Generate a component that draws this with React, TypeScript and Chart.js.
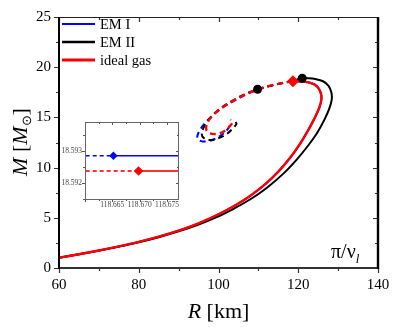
import React, { useEffect, useRef } from 'react';
import { Chart, registerables } from 'chart.js';
Chart.register(...registerables);

const SERIF = '"Liberation Serif", "Times New Roman", Times, serif';

// ---- tick values ----
const mainXTicks = [60, 80, 100, 120, 140];
const mainYTicks = [0, 5, 10, 15, 20, 25];
const insetXTicks = [118.665, 118.67, 118.675];
const insetYTicks = [18.592, 18.593];

// ---- series names ----
const seriesNames = ['EM I', 'EM II', 'ideal gas'];

// ---- EM I (stable branch + unstable branch) ----
const emIStableR = [60, 65, 70, 75, 80, 85, 90, 95, 100, 104, 108, 112, 115, 118, 120.5, 122.6, 124.2, 125.3, 125.8, 125.6, 124.7, 123.2, 121.2, 118.666];
const emIStableM = [1.03, 1.37, 1.74, 2.15, 2.6, 3.12, 3.72, 4.45, 5.35, 6.2, 7.2, 8.45, 9.6, 11.0, 12.4, 13.8, 15.0, 16.0, 16.8, 17.5, 18.1, 18.42, 18.56, 18.593];
const emIUnstableR = [118.666, 116, 113, 110, 107, 104, 101.2, 98.8, 96.9, 95.5, 94.7, 94.9, 96.0, 97.6, 99.6, 101.4, 102.6, 102.9];
const emIUnstableM = [18.593, 18.42, 18.15, 17.78, 17.3, 16.68, 16.02, 15.3, 14.55, 13.85, 13.15, 12.8, 12.6, 12.65, 12.95, 13.45, 14.0, 14.35];

// ---- EM II ----
const emIIStableR = [60, 65, 70, 75, 80, 85, 90, 95, 100, 104, 108, 112, 116, 119.5, 122.5, 124.8, 126.6, 127.8, 128.4, 128.3, 127.6, 126.2, 124.3, 122.5, 121.0];
const emIIStableM = [1.03, 1.37, 1.73, 2.13, 2.57, 3.07, 3.65, 4.33, 5.15, 5.95, 6.85, 7.95, 9.3, 10.75, 12.2, 13.5, 14.8, 15.9, 16.8, 17.5, 18.15, 18.6, 18.82, 18.9, 18.9];
const emIIUnstableR = [121.0, 118, 115, 112, 109.8, 107, 104, 101.2, 99, 97.4, 96.3, 95.8, 96.3, 97.8, 99.8, 101.9, 103.6, 104.5, 104.3];
const emIIUnstableM = [18.9, 18.58, 18.32, 18.05, 17.8, 17.38, 16.78, 16.1, 15.4, 14.7, 14.0, 13.35, 12.95, 12.75, 12.9, 13.3, 13.9, 14.35, 14.55];
const emIIMarkR = [121.0, 109.8];
const emIIMarkM = [18.9, 17.8];

// ---- ideal gas ----
const idealStableR = [60, 65, 70, 75, 80, 85, 90, 95, 100, 104, 108, 112, 115, 118, 120.5, 122.6, 124.2, 125.3, 125.8, 125.6, 124.7, 123.2, 121.2, 118.67];
const idealStableM = [1.03, 1.37, 1.74, 2.15, 2.6, 3.12, 3.72, 4.45, 5.35, 6.2, 7.2, 8.45, 9.6, 11.0, 12.4, 13.8, 15.0, 16.0, 16.8, 17.5, 18.1, 18.42, 18.56, 18.592];
const idealUnstableR = [118.67, 116, 113, 110, 107, 104, 101.2, 99.1, 97.8, 97.0, 97.0, 97.9, 99.5, 101.3, 102.8, 103.5, 103.0];
const idealUnstableM = [18.592, 18.42, 18.16, 17.8, 17.33, 16.72, 16.05, 15.42, 14.85, 14.25, 13.7, 13.4, 13.35, 13.6, 14.1, 14.55, 14.8];

// ---- maximum-mass points ----
const emIPeakR = [118.666];
const emIPeakM = [18.593];
const idealPeakR = [118.67];
const idealPeakM = [18.592];

// ---- inset (zoom near the maximum) ----
const insetBlueR = [118.655, 118.6652, 118.68];
const insetBlueM = [18.59285, 18.59285, 18.59285];
const insetRedR = [118.655, 118.6698, 118.68];
const insetRedM = [18.59237, 18.59237, 18.59237];
const insetBluePeakR = [118.6652];
const insetBluePeakM = [18.59285];
const insetRedPeakR = [118.6698];
const insetRedPeakM = [18.59237];

const BLUE = '#0000ff';
const BLACK = '#000000';
const RED = '#ff0000';

const pts = (r: number[], m: number[]) => r.map((x, i) => ({ x, y: m[i] }));

function tickList(major: number[], min: number, max: number) {
  const step = major[1] - major[0];
  const start = major[0] - step;
  const out: { v: number; major: boolean }[] = [];
  for (let k = 0; k < 200; k++) {
    const v = start + (k * step) / 2;
    if (v > max + step * 1e-6) break;
    if (v < min - step * 1e-6) continue;
    out.push({ v, major: k % 2 === 0 });
  }
  return out;
}

type Piece = { t: string; italic?: boolean; size: number; dy?: number };
function drawPieces(ctx: CanvasRenderingContext2D, pieces: Piece[], x: number, y: number, align: 'left' | 'center') {
  const fontOf = (p: Piece) => `${p.italic ? 'italic ' : ''}${p.size}px ${SERIF}`;
  let w = 0;
  for (const p of pieces) { ctx.font = fontOf(p); w += ctx.measureText(p.t).width; }
  let cx = align === 'center' ? x - w / 2 : x;
  ctx.textAlign = 'left';
  ctx.textBaseline = 'alphabetic';
  for (const p of pieces) {
    ctx.font = fontOf(p);
    ctx.fillText(p.t, cx, y + (p.dy || 0));
    cx += ctx.measureText(p.t).width;
  }
}

const legendItems = [
  { label: seriesNames[0], color: BLUE, width: 1.8 },
  { label: seriesNames[1], color: BLACK, width: 2.4 },
  { label: seriesNames[2], color: RED, width: 3.2 },
];

const mainDecor = {
  id: 'mainDecor',
  afterDraw(chart: any) {
    const ctx: CanvasRenderingContext2D = chart.ctx;
    const a = chart.chartArea;
    const xs = chart.scales.x;
    const ys = chart.scales.y;
    ctx.save();
    // ticks
    ctx.strokeStyle = '#333';
    ctx.lineWidth = 1.2;
    for (const t of tickList(mainXTicks, xs.min, xs.max)) {
      const px = Math.round(xs.getPixelForValue(t.v)) + 0.5;
      const len = t.major ? 5 : 3;
      ctx.beginPath();
      ctx.moveTo(px, a.bottom); ctx.lineTo(px, a.bottom + len);
      ctx.moveTo(px, a.top); ctx.lineTo(px, a.top + len);
      ctx.stroke();
    }
    for (const t of tickList(mainYTicks, ys.min, ys.max)) {
      const py = Math.round(ys.getPixelForValue(t.v)) + 0.5;
      const len = t.major ? 5 : 3;
      ctx.beginPath();
      ctx.moveTo(a.left - len, py); ctx.lineTo(a.left, py);
      ctx.moveTo(a.right - len, py); ctx.lineTo(a.right, py);
      ctx.stroke();
    }
    // frame
    ctx.strokeStyle = '#222';
    ctx.lineWidth = 1.2;
    ctx.beginPath(); ctx.moveTo(a.left, a.top + 0.5); ctx.lineTo(a.right, a.top + 0.5); ctx.stroke();
    ctx.lineWidth = 2;
    ctx.strokeStyle = '#333';
    ctx.beginPath(); ctx.moveTo(a.left - 1, a.bottom); ctx.lineTo(a.right + 1, a.bottom); ctx.stroke();
    ctx.strokeStyle = '#000';
    ctx.beginPath(); ctx.moveTo(a.left, a.top); ctx.lineTo(a.left, a.bottom + 1); ctx.stroke();
    ctx.lineWidth = 2.4;
    ctx.beginPath(); ctx.moveTo(a.right, a.top); ctx.lineTo(a.right, a.bottom + 1); ctx.stroke();

    // legend
    legendItems.forEach((it, i) => {
      const y = 24 + i * 18;
      ctx.strokeStyle = it.color;
      ctx.lineWidth = it.width;
      ctx.beginPath(); ctx.moveTo(62, y); ctx.lineTo(95, y); ctx.stroke();
      ctx.fillStyle = '#000';
      ctx.font = `14.5px ${SERIF}`;
      ctx.textAlign = 'left';
      ctx.textBaseline = 'middle';
      ctx.fillText(it.label, 100, y + 1);
    });

    ctx.fillStyle = '#000';
    // x title
    drawPieces(ctx, [
      { t: 'R', italic: true, size: 22 },
      { t: ' [km]', size: 22 },
    ], (a.left + a.right) / 2, 318, 'center');
    // y title
    ctx.save();
    ctx.translate(27, 142);
    ctx.rotate(-Math.PI / 2);
    drawPieces(ctx, [
      { t: 'M', italic: true, size: 22 },
      { t: ' [', size: 22 },
      { t: 'M', italic: true, size: 22 },
      { t: '\u2299', size: 13, dy: 4 },
      { t: ']', size: 22 },
    ], 0, 0, 'center');
    ctx.restore();
    // annotation
    drawPieces(ctx, [
      { t: '\u03c0/\u03bd', size: 20 },
      { t: 'l', italic: true, size: 13, dy: 5 },
    ], 331, 258, 'left');
    ctx.restore();
  },
};

const insetDecor = {
  id: 'insetDecor',
  beforeDatasetsDraw(chart: any) {
    const ctx: CanvasRenderingContext2D = chart.ctx;
    const a = chart.chartArea;
    ctx.save();
    ctx.fillStyle = '#fff';
    ctx.fillRect(a.left, a.top, a.right - a.left, a.bottom - a.top);
    ctx.restore();
  },
  afterDraw(chart: any) {
    const ctx: CanvasRenderingContext2D = chart.ctx;
    const a = chart.chartArea;
    const xs = chart.scales.x;
    const ys = chart.scales.y;
    ctx.save();
    ctx.strokeStyle = '#555';
    ctx.lineWidth = 1;
    for (const t of tickList(insetXTicks, xs.min, xs.max)) {
      const px = Math.round(xs.getPixelForValue(t.v)) + 0.5;
      const len = t.major ? 3 : 2;
      ctx.beginPath();
      ctx.moveTo(px, a.bottom); ctx.lineTo(px, a.bottom + len);
      ctx.moveTo(px, a.top); ctx.lineTo(px, a.top + len);
      ctx.stroke();
    }
    for (const t of tickList(insetYTicks, ys.min, ys.max)) {
      const py = Math.round(ys.getPixelForValue(t.v)) + 0.5;
      const len = t.major ? 3 : 2;
      ctx.beginPath();
      ctx.moveTo(a.left - len, py); ctx.lineTo(a.left, py);
      ctx.moveTo(a.right - len, py); ctx.lineTo(a.right, py);
      ctx.stroke();
    }
    ctx.strokeStyle = '#666';
    ctx.strokeRect(Math.round(a.left) + 0.5, Math.round(a.top) + 0.5, Math.round(a.right - a.left) - 1, Math.round(a.bottom - a.top));
    ctx.restore();
  },
};

export default function App() {
  const mainRef = useRef<HTMLCanvasElement>(null);
  const insetRef = useRef<HTMLCanvasElement>(null);

  useEffect(() => {
    Chart.defaults.font.family = SERIF;
    const dash = [6, 4];
    const curve = (label: string, sR: number[], sM: number[], uR: number[], uM: number[], color: string, width: number, order: number) => ({
      label,
      data: pts(sR.concat(uR.slice(1)), sM.concat(uM.slice(1))),
      showLine: true,
      pointRadius: 0,
      borderColor: color,
      backgroundColor: color,
      borderWidth: width,
      tension: 0.35,
      order,
      segment: {
        borderDash: (c: any) => (c.p0DataIndex >= sR.length - 1 ? dash : undefined),
      },
    });
    const main = new Chart(mainRef.current!, {
      type: 'scatter',
      data: {
        datasets: [
          { label: 'peak ideal', data: pts(idealPeakR, idealPeakM), pointStyle: 'rectRot', pointRadius: 6, backgroundColor: RED, borderColor: RED, borderWidth: 0, order: 0 } as any,
          { label: 'marks EM II', data: pts(emIIMarkR, emIIMarkM), pointStyle: 'circle', pointRadius: 4.5, backgroundColor: BLACK, borderColor: BLACK, borderWidth: 0, order: 1 },
          { label: 'peak EM I', data: pts(emIPeakR, emIPeakM), pointStyle: 'rectRot', pointRadius: 5, backgroundColor: BLUE, borderColor: BLUE, borderWidth: 0, order: 2 },
          curve(seriesNames[2], idealStableR, idealStableM, idealUnstableR, idealUnstableM, RED, 2.4, 3),
          curve(seriesNames[1], emIIStableR, emIIStableM, emIIUnstableR, emIIUnstableM, BLACK, 2, 4),
          curve(seriesNames[0], emIStableR, emIStableM, emIUnstableR, emIUnstableM, BLUE, 2, 5),
        ] as any,
      },
      options: {
        responsive: false,
        animation: false,
        events: [],
        layout: { padding: { top: 10, right: 29, left: 0, bottom: 0 } },
        plugins: { legend: { display: false }, tooltip: { enabled: false } },
        scales: {
          x: {
            type: 'linear', min: 60, max: 140,
            afterBuildTicks: (s: any) => { s.ticks = mainXTicks.map((v) => ({ value: v })); },
            afterFit: (s: any) => { s.height = 59; },
            ticks: { font: { family: SERIF, size: 15 }, color: '#000', padding: 8, maxRotation: 0, autoSkip: false },
            grid: { display: false, drawTicks: false },
            border: { display: false },
          },
          y: {
            type: 'linear', min: 0, max: 25,
            afterBuildTicks: (s: any) => { s.ticks = mainYTicks.map((v) => ({ value: v })); },
            afterFit: (s: any) => { s.width = 59; },
            ticks: { font: { family: SERIF, size: 15 }, color: '#000', padding: 8, autoSkip: false },
            grid: { display: false, drawTicks: false },
            border: { display: false },
          },
        },
      } as any,
      plugins: [mainDecor],
    });

    const insetDash = [4, 3];
    const hline = (r: number[], m: number[], color: string, width: number) => ({
      data: pts(r, m),
      showLine: true,
      pointRadius: 0,
      borderColor: color,
      borderWidth: width,
      order: 2,
      segment: { borderDash: (c: any) => (c.p0DataIndex < 1 ? insetDash : undefined) },
    });
    const inset = new Chart(insetRef.current!, {
      type: 'scatter',
      data: {
        datasets: [
          { data: pts(insetBluePeakR, insetBluePeakM), pointStyle: 'rectRot', pointRadius: 4.2, backgroundColor: BLUE, borderWidth: 0, order: 0 },
          { data: pts(insetRedPeakR, insetRedPeakM), pointStyle: 'rectRot', pointRadius: 4.8, backgroundColor: RED, borderWidth: 0, order: 0 },
          hline(insetBlueR, insetBlueM, BLUE, 1.5),
          hline(insetRedR, insetRedM, '#ff3030', 2),
        ] as any,
      },
      options: {
        responsive: false,
        animation: false,
        events: [],
        layout: { padding: { top: 10, right: 6, left: 0, bottom: 0 } },
        plugins: { legend: { display: false }, tooltip: { enabled: false } },
        scales: {
          x: {
            type: 'linear', min: 118.66, max: 118.6772,
            afterBuildTicks: (s: any) => { s.ticks = insetXTicks.map((v) => ({ value: v })); },
            afterFit: (s: any) => { s.height = 16; },
            ticks: { font: { family: SERIF, size: 7.5 }, color: '#444', padding: 2, maxRotation: 0, autoSkip: false, callback: (v: any) => Number(v).toFixed(3) },
            grid: { display: false, drawTicks: false },
            border: { display: false },
          },
          y: {
            type: 'linear', min: 18.59149, max: 18.59391,
            afterBuildTicks: (s: any) => { s.ticks = insetYTicks.map((v) => ({ value: v })); },
            afterFit: (s: any) => { s.width = 30; },
            ticks: { font: { family: SERIF, size: 7.5 }, color: '#444', padding: 3, autoSkip: false, callback: (v: any) => Number(v).toFixed(3) },
            grid: { display: false, drawTicks: false },
            border: { display: false },
          },
        },
      } as any,
      plugins: [insetDecor],
    });

    return () => {
      main.destroy();
      inset.destroy();
    };
  }, []);

  return (
    <div style={{ position: 'absolute', left: 0, top: 0, width: 407, height: 327, background: '#fff' }}>
      <canvas ref={mainRef} width={407} height={327} style={{ position: 'absolute', left: 0, top: 0 }} />
      <canvas ref={insetRef} width={130} height={103} style={{ position: 'absolute', left: 55, top: 112 }} />
    </div>
  );
}
